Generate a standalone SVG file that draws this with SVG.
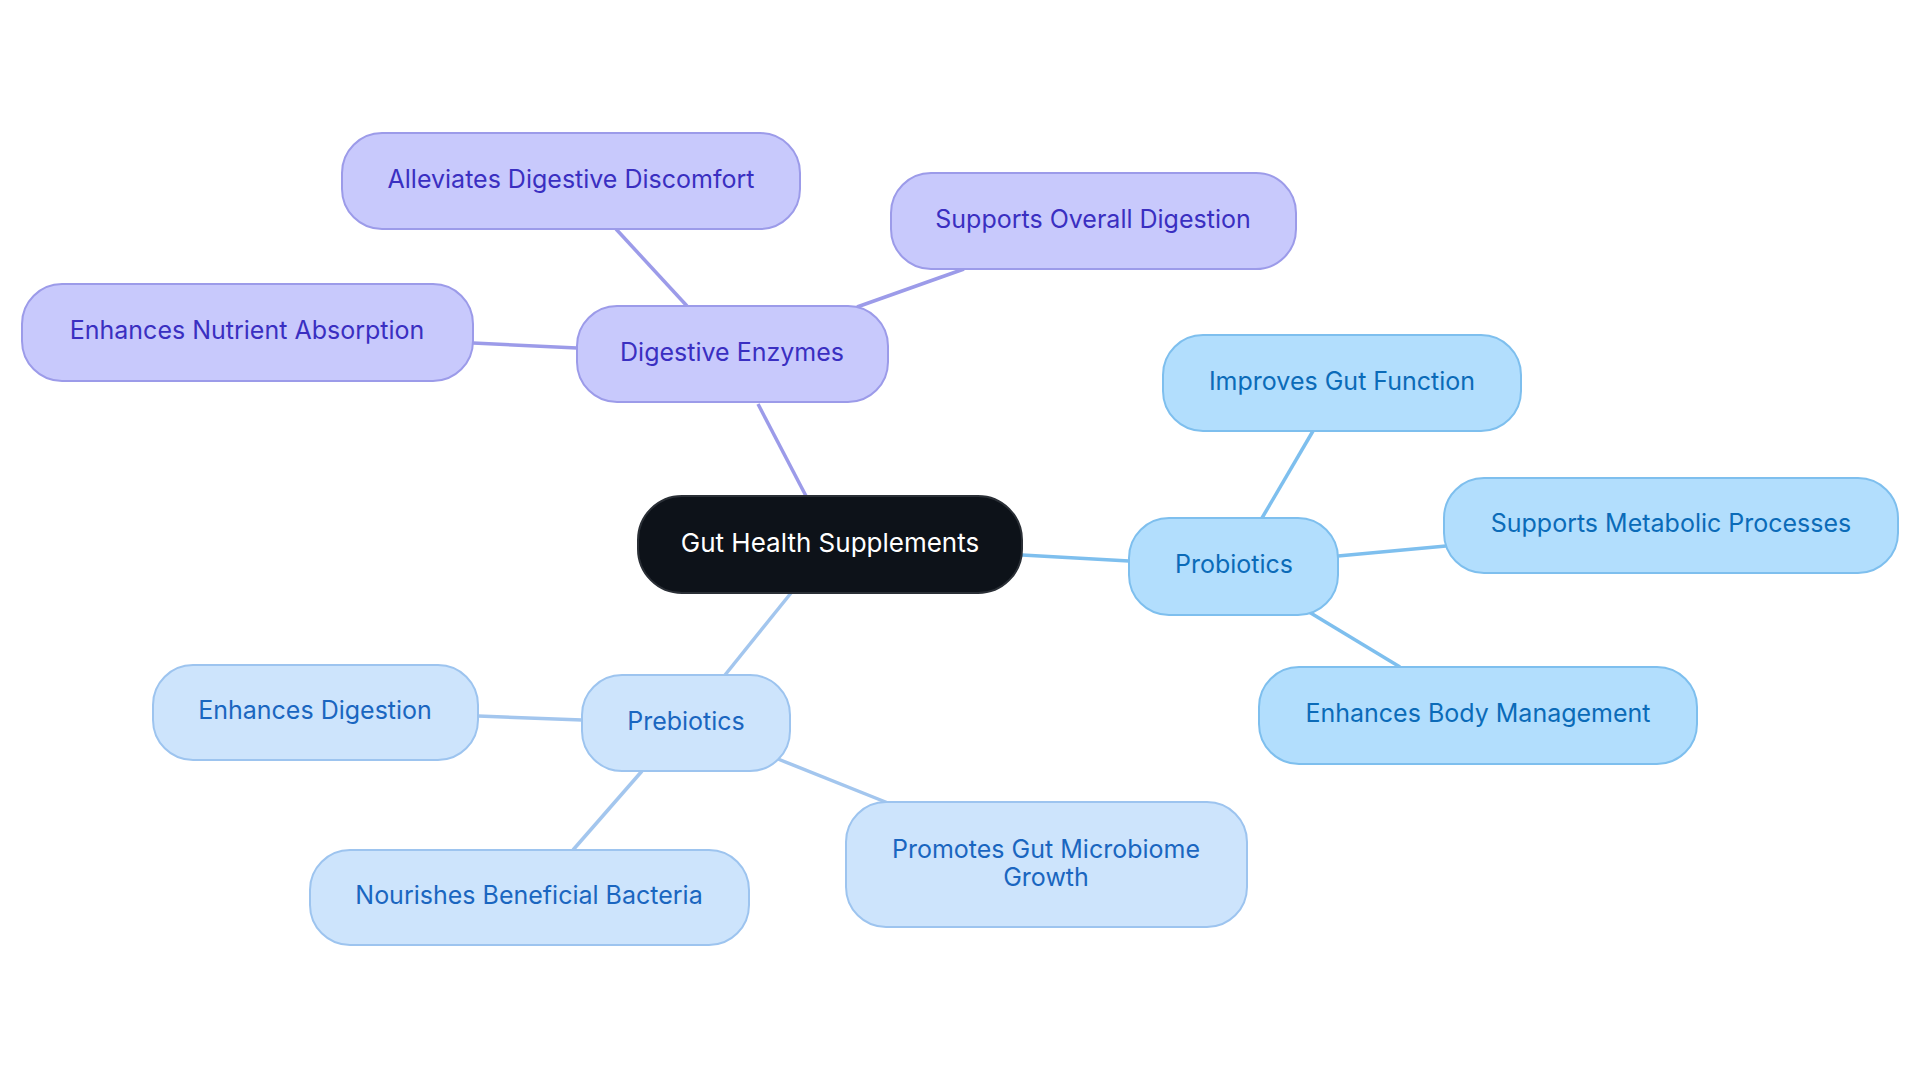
<svg xmlns="http://www.w3.org/2000/svg" width="1920" height="1083" viewBox="0 0 1920 1083">
<style>
text{font-family:Inter,"Noto Sans","Liberation Sans",sans-serif;font-size:25px;text-anchor:middle;dominant-baseline:central}
.c rect{fill:#0d1219;stroke:#2a2f36;stroke-width:2}
.c text{fill:#ffffff}
.e rect{fill:#c8c9fc;stroke:#9c9be9;stroke-width:2}
.e text{fill:#3a2fc1}
.p rect{fill:#b2defd;stroke:#7ebfee;stroke-width:2}
.p text{fill:#0b6bb8}
.b rect{fill:#cde4fc;stroke:#9dc4ef;stroke-width:2}
.b text{fill:#1a66c0}
.le{stroke:#9c9be9;stroke-width:3.5;fill:none}
.lp{stroke:#7ebfee;stroke-width:3.5;fill:none}
.lb{stroke:#a3c6ee;stroke-width:3.5;fill:none}
</style>
<rect width="1920" height="1083" fill="#ffffff"/>
<g id="connectors">
<line class="le" x1="806" y1="496" x2="758" y2="404"/>
<line class="le" x1="687" y1="306" x2="616" y2="229"/>
<line class="le" x1="857" y1="307" x2="964" y2="269"/>
<line class="le" x1="577" y1="348" x2="473" y2="343"/>
<line class="lp" x1="1022" y1="555" x2="1129" y2="561"/>
<line class="lp" x1="1262" y1="518" x2="1313" y2="431"/>
<line class="lp" x1="1338" y1="556" x2="1446" y2="546"/>
<line class="lp" x1="1309" y1="612" x2="1400" y2="667"/>
<line class="lb" x1="791" y1="593" x2="725" y2="675"/>
<line class="lb" x1="582" y1="720" x2="478" y2="716"/>
<line class="lb" x1="642" y1="771" x2="573" y2="850"/>
<line class="lb" x1="778" y1="759" x2="888" y2="803"/>
</g>
<g id="central" class="c"><rect x="638" y="496" width="384" height="97" rx="44"/><text x="830" y="542" style="font-size:26px">Gut Health Supplements</text></g>
<g id="digestive-enzymes" class="e"><rect x="577" y="306" width="311" height="96" rx="40"/><text x="732" y="352">Digestive Enzymes</text></g>
<g id="alleviates" class="e"><rect x="342" y="133" width="458" height="96" rx="40"/><text x="571" y="179">Alleviates Digestive Discomfort</text></g>
<g id="supports-overall" class="e"><rect x="891" y="173" width="405" height="96" rx="40"/><text x="1093" y="219">Supports Overall Digestion</text></g>
<g id="nutrient" class="e"><rect x="22" y="284" width="451" height="97" rx="40"/><text x="247" y="330">Enhances Nutrient Absorption</text></g>
<g id="probiotics" class="p"><rect x="1129" y="518" width="209" height="97" rx="40"/><text x="1234" y="564">Probiotics</text></g>
<g id="improves" class="p"><rect x="1163" y="335" width="358" height="96" rx="40"/><text x="1342" y="381">Improves Gut Function</text></g>
<g id="metabolic" class="p"><rect x="1444" y="478" width="454" height="95" rx="40"/><text x="1671" y="523">Supports Metabolic Processes</text></g>
<g id="body" class="p"><rect x="1259" y="667" width="438" height="97" rx="40"/><text x="1478" y="713">Enhances Body Management</text></g>
<g id="prebiotics" class="b"><rect x="582" y="675" width="208" height="96" rx="40"/><text x="686" y="721">Prebiotics</text></g>
<g id="enh-digestion" class="b"><rect x="153" y="665" width="325" height="95" rx="40"/><text x="315" y="710">Enhances Digestion</text></g>
<g id="nourishes" class="b"><rect x="310" y="850" width="439" height="95" rx="40"/><text x="529" y="895">Nourishes Beneficial Bacteria</text></g>
<g id="promotes" class="b"><rect x="846" y="802" width="401" height="125" rx="40"/><text x="1046" y="849">Promotes Gut Microbiome</text><text x="1046" y="877">Growth</text></g>
</svg>
